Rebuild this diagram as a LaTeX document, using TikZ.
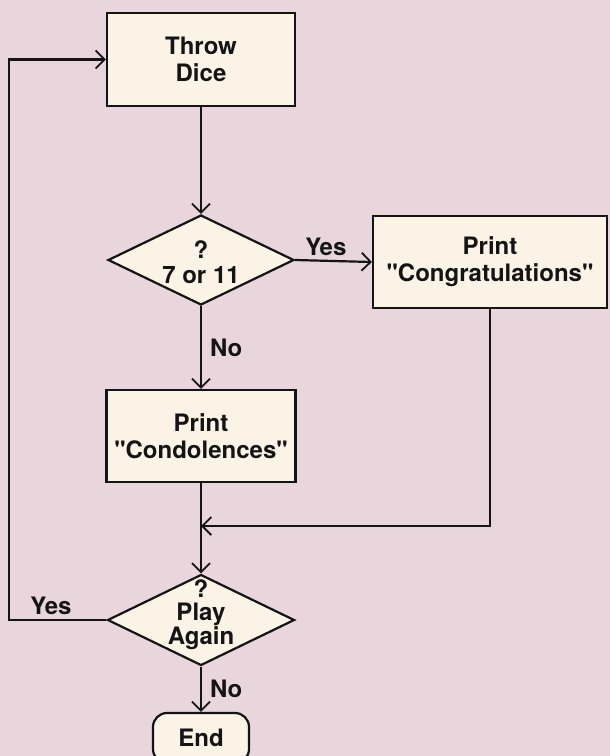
\documentclass[tikz,border=0pt]{standalone}
\usepackage{fontspec}
\newfontfamily\heros{TeX Gyre Heros}
\usetikzlibrary{shapes.geometric,arrows.meta}
\definecolor{bg}{RGB}{232,214,220}
\definecolor{boxfill}{RGB}{250,243,230}
\definecolor{ink}{RGB}{20,20,20}
\begin{document}
\begin{tikzpicture}[x=1pt,y=-1pt,
  every node/.style={font=\heros\fontsize{24}{27}\selectfont\bfseries, text=ink},
  procbox/.style={draw=ink, line width=2.2pt, fill=boxfill, rectangle, inner sep=0pt, align=center},
  decision/.style={draw=ink, line width=2.2pt, fill=boxfill, diamond, inner sep=0pt},
  flow/.style={draw=ink, line width=2.2pt, -{Straight Barb[length=9pt,width=18pt,line width=1.8pt]}},
  lbl/.style={inner sep=0pt}
]
\clip (0,0) rectangle (610,756);
\fill[bg] (0,0) rectangle (610,756);

\node[procbox, minimum width=188pt, minimum height=93pt] (throw) at (201,59.5) {Throw\\Dice};
\node[decision, minimum width=186pt, minimum height=90pt] (d1) at (201,260) {};
\node[lbl, align=center, font=\heros\fontsize{24}{25}\selectfont\bfseries] (d1t) at (201,262) {?\\7 or 11};
\node[procbox, minimum width=234pt, minimum height=92pt] (cong) at (490,262) {Print\\"Congratulations"};
\node[procbox, minimum width=189pt, minimum height=92pt] (cond) at (201,436) {Print\\"Condolences"};
\node[decision, minimum width=187pt, minimum height=91pt] (d2) at (201,620) {};
\node[lbl, align=center, font=\heros\fontsize{24}{23}\selectfont\bfseries] (d2t) at (201,615) {?\\Play\\Again};
\node[procbox, rounded corners=14pt, minimum width=96pt, minimum height=50pt] (end) at (201,738) {End};

\coordinate (join) at (201,526);
\coordinate (loopbot) at (9,620);

\draw[flow] (throw.south) -- (d1.north);
\draw[flow] (d1.south) -- node[lbl, right=8pt] (no1) {No} (cond.north);
\draw[flow] (d1.east) -- node[lbl, above=4pt, pos=0.4] (yes1) {Yes} (cong.west);
\draw[flow] (cong.south) |- (join);
\draw[flow] (cond.south) -- (d2.north);
\draw[flow] (d2.south) -- node[lbl, right=8pt] (no2) {No} (end.north);
\draw[flow] (d2.west) -- node[lbl, above=4pt, pos=0.57] (yes2) {Yes} (loopbot) |- (throw.west);
\end{tikzpicture}
\end{document}
